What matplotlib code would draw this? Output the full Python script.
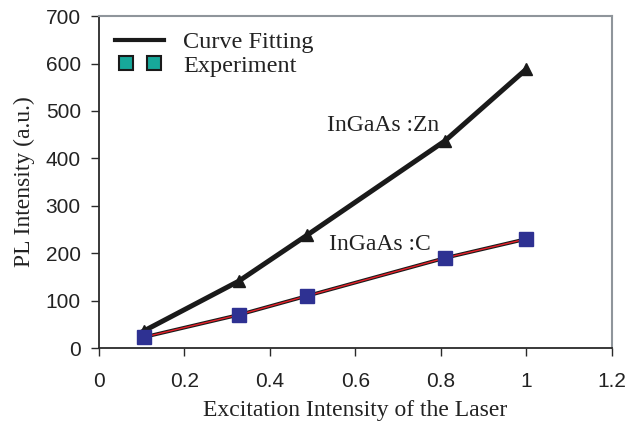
import matplotlib.pyplot as plt
from matplotlib.lines import Line2D
from matplotlib.legend_handler import HandlerLine2D

# excitation intensity (relative) and PL intensity readings
x_exc = [0.105, 0.327, 0.487, 0.81, 1.0]
pl_zn = [36, 141, 238, 437, 588]
pl_c = [23, 70, 110, 190, 230]

serif = 'Liberation Serif'

fig = plt.figure(figsize=(6.26, 4.25), dpi=100)
ax = fig.add_axes([0.158, 0.181, 0.819, 0.781])

# fitted curves
ax.plot(x_exc, pl_zn, color='#1a1a1a', lw=3.6, zorder=2)
ax.plot(x_exc, pl_c, color='#1a1a1a', lw=2.6, zorder=2)
ax.plot(x_exc, pl_c, color='#e8202a', lw=1.0, zorder=3)

# measured points
ax.plot(x_exc, pl_zn, linestyle='none', marker='^', ms=9, color='#1a1a1a', zorder=4)
ax.plot(x_exc, pl_c, linestyle='none', marker='s', ms=10, color='#2e3192',
        markeredgecolor='#2e3192', zorder=4)

ax.set_xlim(0, 1.2)
ax.set_ylim(0, 700)
ax.set_xticks([0, 0.2, 0.4, 0.6, 0.8, 1.0, 1.2])
ax.set_xticklabels(['0', '0.2', '0.4', '0.6', '0.8', '1', '1.2'])
ax.set_yticks(range(0, 701, 100))
for s in ['top', 'right']:
    ax.spines[s].set_color('#8f959b')
    ax.spines[s].set_linewidth(1.5)
for s in ['left', 'bottom']:
    ax.spines[s].set_color('#2a2a2a')
    ax.spines[s].set_linewidth(1.3)
ax.tick_params(direction='out', length=6, width=1.0, labelsize=15, pad=7,
               color='#2a2a2a', labelcolor='#222222')
ax.tick_params(axis='x', pad=11)
for lab in ax.get_xticklabels() + ax.get_yticklabels():
    lab.set_family('Liberation Sans')

ax.set_ylabel('PL Intensity (a.u.)', fontsize=17, family=serif, labelpad=8, color='#222222')
ax.set_xlabel('Excitation Intensity of the Laser', fontsize=17, family=serif, labelpad=7,
              color='#222222')

ax.text(0.534, 470, 'InGaAs :Zn', fontsize=17, family=serif, va='center', color='#222222')
ax.text(0.539, 219, 'InGaAs :C', fontsize=17, family=serif, va='center', color='#222222')

line_h = Line2D([], [], color='#1a1a1a', lw=3)
mark_h = Line2D([], [], linestyle='none', marker='s', ms=10,
                markerfacecolor='#17a89a', markeredgecolor='#1a1a1a', markeredgewidth=1.5)
leg = ax.legend([line_h, mark_h], ['Curve Fitting', 'Experiment'], loc='upper left',
                bbox_to_anchor=(-0.012, 1.02), frameon=False, numpoints=2,
                handlelength=2.05, handletextpad=0.78, labelspacing=0.05,
                handler_map={line_h: HandlerLine2D(marker_pad=0),
                             mark_h: HandlerLine2D(marker_pad=0.45)},
                prop={'family': serif, 'size': 17.5})
for t in leg.get_texts():
    t.set_color('#222222')

fig.savefig('out.png', dpi=100)
